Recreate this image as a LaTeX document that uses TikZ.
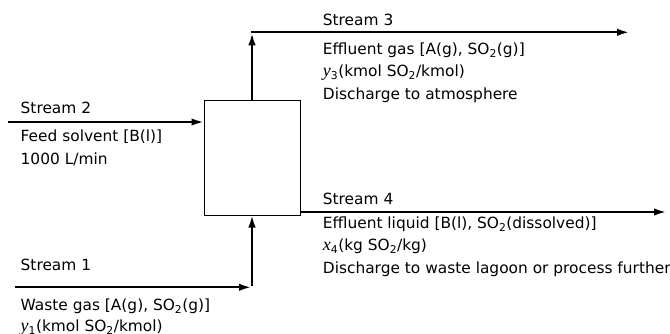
\documentclass[tikz,border=0pt]{standalone}
\usepackage{fontspec}
\setmainfont{DejaVu Sans}
\newfontfamily\timfont{Liberation Serif}[Scale=1.17]
\usetikzlibrary{arrows.meta}
\newcommand\itvar[1]{{\timfont\itshape #1}}
\begin{document}
\begin{tikzpicture}[x=1pt,y=-1pt,
  lbl/.style={anchor=base west, inner sep=0pt, font=\fontsize{15.4}{22.5}\selectfont},
  flow/.style={line width=2pt, -{Latex[length=12pt,width=7.5pt]}},
  unit/.style={draw, line width=1pt, minimum width=96pt, minimum height=115pt, inner sep=0pt}]
\useasboundingbox (0,0) rectangle (670,333);
\fill[white] (0,0) rectangle (670,333);
% absorber
\node[unit] (absorber) at (252,157.5) {};
% stream 2
\coordinate (s2a) at (8,122);
\draw[flow] (s2a) -- (s2a -| absorber.west);
\node[lbl] (s2t) at (20.5,113.3) {Stream 2};
\node[lbl] (s2l1) at (20.5,141.5) {Feed solvent [B(l)]};
\node[lbl] (s2l2) at (20.5,164.5) {1000 L/min};
% stream 1
\coordinate (s1a) at (15,287.3);
\coordinate (s1c) at (absorber.south |- s1a);
\draw[flow, shorten >=1pt] (s1a) -- (s1c);
\draw[flow] ([yshift=1pt]s1c) -- (absorber.south);
\node[lbl] (s1t) at (20.5,270.5) {Stream 1};
\node[lbl] (s1l1) at (20.5,310) {Waste gas [A(g), SO\textsubscript{2}(g)]};
\node[lbl] (s1l2) at (20.5,331.5) {\itvar{y}\textsubscript{1}(kmol SO\textsubscript{2}/kmol)};
% stream 3
\coordinate (s3c) at (absorber.north |- 0,32.3);
\coordinate (s3b) at (629,32.3);
\draw[flow, shorten >=1pt] (absorber.north) -- (s3c);
\draw[flow] ([xshift=-1pt]s3c) -- (s3b);
\node[lbl] (s3t) at (322.7,25.5) {Stream 3};
\node[lbl] (s3l1) at (322.7,54) {Effluent gas [A(g), SO\textsubscript{2}(g)]};
\node[lbl] (s3l2) at (322.7,76.5) {\itvar{y}\textsubscript{3}(kmol SO\textsubscript{2}/kmol)};
\node[lbl] (s3l3) at (322.7,99) {Discharge to atmosphere};
% stream 4
\coordinate (s4b) at (666,212);
\draw[flow] (absorber.east |- s4b) -- (s4b);
\node[lbl] (s4t) at (322.7,204) {Stream 4};
\node[lbl] (s4l1) at (322.7,228.3) {Effluent liquid [B(l), SO\textsubscript{2}(dissolved)]};
\node[lbl] (s4l2) at (322.7,250.7) {\itvar{x}\textsubscript{4}(kg SO\textsubscript{2}/kg)};
\node[lbl] (s4l3) at (322.7,273) {Discharge to waste lagoon or process further};
\end{tikzpicture}
\end{document}
